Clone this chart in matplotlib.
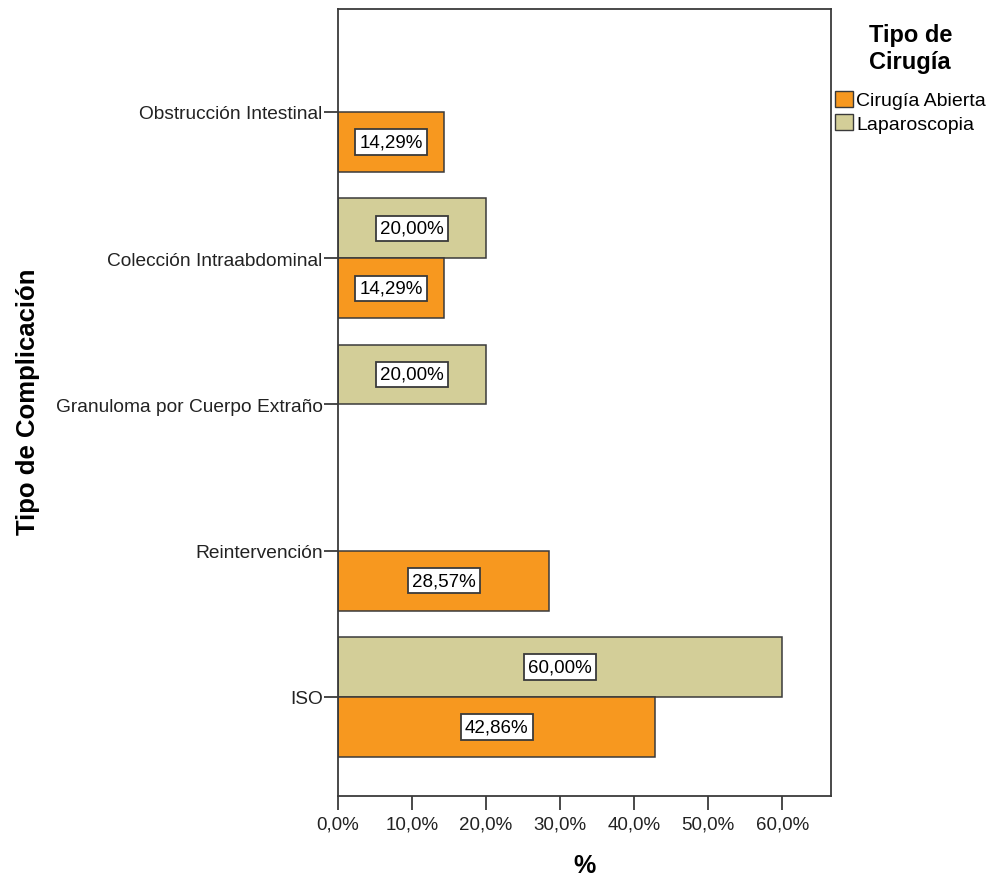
import numpy as np
import matplotlib
matplotlib.use("Agg")
import matplotlib.pyplot as plt
from matplotlib.patches import Patch
from matplotlib.ticker import FuncFormatter

plt.rcParams['font.family'] = ['Liberation Sans', 'DejaVu Sans']

# Datos (de arriba hacia abajo)
categorias = ["Obstrucción Intestinal", "Colección Intraabdominal",
              "Granuloma por Cuerpo Extraño", "Reintervención", "ISO"]
cirugia_abierta = [14.29, 14.29, 0.0, 28.57, 42.86]
laparoscopia = [0.0, 20.0, 20.0, 0.0, 60.0]
series = ["Cirugía Abierta", "Laparoscopia"]
colores = ["#F7981F", "#D3CE98"]
borde = "#3a3a3a"

W, H = 989, 879
fig = plt.figure(figsize=(W / 100, H / 100), dpi=100)
ax = fig.add_axes([338 / W, 1 - 797 / H, (831 - 338) / W, (797 - 10) / H])

n = len(categorias)
pos = np.arange(n)[::-1]  # Obstrucción arriba
alto = 0.41


def etiqueta(x, y):
    ax.text(x / 2, y, f"{x:.2f}%".replace(".", ","), ha="center", va="center",
            fontsize=13.5, color="black",
            bbox=dict(boxstyle="square,pad=0.22", facecolor="white",
                      edgecolor=borde, linewidth=1.3))


for y, v in zip(pos, laparoscopia):
    if v > 0:
        ax.barh(y + alto / 2, v, height=alto, color=colores[1],
                edgecolor=borde, linewidth=1.1)
        etiqueta(v, y + alto / 2)

for y, v in zip(pos, cirugia_abierta):
    if v > 0:
        ax.barh(y - alto / 2, v, height=alto, color=colores[0],
                edgecolor=borde, linewidth=1.1)
        etiqueta(v, y - alto / 2)

ax.set_xlim(0, 66.6)
ax.set_ylim(-0.677, 4.704)
ax.set_xticks(np.arange(0, 61, 10))
ax.xaxis.set_major_formatter(FuncFormatter(lambda v, p: f"{v:.1f}%".replace(".", ",")))
ax.set_yticks(pos)
ax.set_yticklabels(categorias, fontsize=13.8)
ax.tick_params(axis="x", labelsize=13.5, length=10, width=1.3,
               color=borde, labelcolor="#222222", direction="out", pad=4)
ax.tick_params(axis="y", length=10, width=1.3,
               color=borde, labelcolor="#222222", direction="out", pad=1)

for s in ax.spines.values():
    s.set_color(borde)
    s.set_linewidth(1.3)

# Títulos de ejes
fig.text(585 / W, 1 - 866 / H, "%", fontsize=18, fontweight="bold",
         ha="center", va="center")
fig.text(28 / W, 1 - 402 / H, "Tipo de Complicación", fontsize=18.5,
         fontweight="bold", rotation=90, ha="center", va="center")

# Leyenda
handles = [Patch(facecolor=c, edgecolor=borde, label=s) for s, c in zip(series, colores)]
leg = fig.legend(handles=handles, title="Tipo de\nCirugía", loc="upper left",
                 bbox_to_anchor=(835 / W, 1 - 24 / H), frameon=False,
                 fontsize=14, title_fontproperties={"weight": "bold", "size": 17},
                 handlelength=0.9, handleheight=0.9, handletextpad=0.2,
                 labelspacing=0.25, borderaxespad=0, borderpad=0)
leg._legend_box.sep = 13

fig.savefig("out.png", dpi=100)
